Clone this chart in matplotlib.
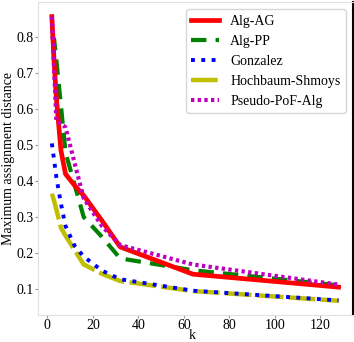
import numpy as np
import matplotlib.pyplot as plt

k = [2, 3, 4, 6, 8, 12, 16, 24, 32, 64, 128]

alg_ag = [0.858, 0.73, 0.63, 0.485, 0.42, 0.388, 0.36, 0.29, 0.217, 0.141, 0.105]
alg_pp = [0.805, 0.795, 0.735, 0.61, 0.48, 0.39, 0.30, 0.245, 0.185, 0.152, 0.11]
gonzalez = [0.505, 0.458, 0.41, 0.337, 0.275, 0.22, 0.19, 0.151, 0.127, 0.095, 0.068]
hochbaum = [0.365, 0.345, 0.32, 0.27, 0.248, 0.208, 0.168, 0.142, 0.122, 0.094, 0.067]
pseudo_pof = [0.858, 0.71, 0.565, 0.56, 0.55, 0.45, 0.352, 0.275, 0.222, 0.168, 0.112]

plt.rcParams['font.family'] = ['Liberation Serif', 'DejaVu Serif']
plt.rcParams['font.size'] = 10

fig = plt.figure(figsize=(3.54, 3.42), dpi=100)
ax = fig.add_axes([0.106, 0.079, 0.891, 0.914])

l2, = ax.plot(k, alg_pp, color='g', linewidth=3, linestyle=(0, (3.7, 2.2)), label='Alg-PP')
l4, = ax.plot(k, hochbaum, color='y', linewidth=3.2, linestyle=(0, (6, 1.2)), label='Hochbaum-Shmoys')
l3, = ax.plot(k, gonzalez, color='b', linewidth=2.8, linestyle=':', label='Gonzalez')
l1, = ax.plot(k, alg_ag, color='r', linewidth=3.4, label='Alg-AG')
l5, = ax.plot(k, pseudo_pof, color='m', linewidth=3, linestyle=(0, (0.8, 0.8)), label='Pseudo-PoF-Alg')

ax.set_xlabel('k')
ax.set_ylabel('Maximum assignment distance')
ax.xaxis.set_label_coords(0.49, -0.044)
ax.yaxis.set_label_coords(-0.072, 0.5)
ax.set_xticks([0, 20, 40, 60, 80, 100, 120])
ax.set_yticks([0.1, 0.2, 0.3, 0.4, 0.5, 0.6, 0.7, 0.8])
ax.set_yticklabels(['0.1', '0.2', '0.3', '0.4', '0.5', '0.6', '0.7', '0.8'])
ax.tick_params(length=2.5, width=0.8, color='0.6', pad=0.5)

for s in ['left', 'top', 'bottom']:
    ax.spines[s].set_color('0.88')
ax.spines['right'].set_color('black')
ax.spines['right'].set_linewidth(1.5)

ax.legend(handles=[l1, l2, l3, l4, l5], loc='upper right')

plt.savefig('out.png', dpi=100)
